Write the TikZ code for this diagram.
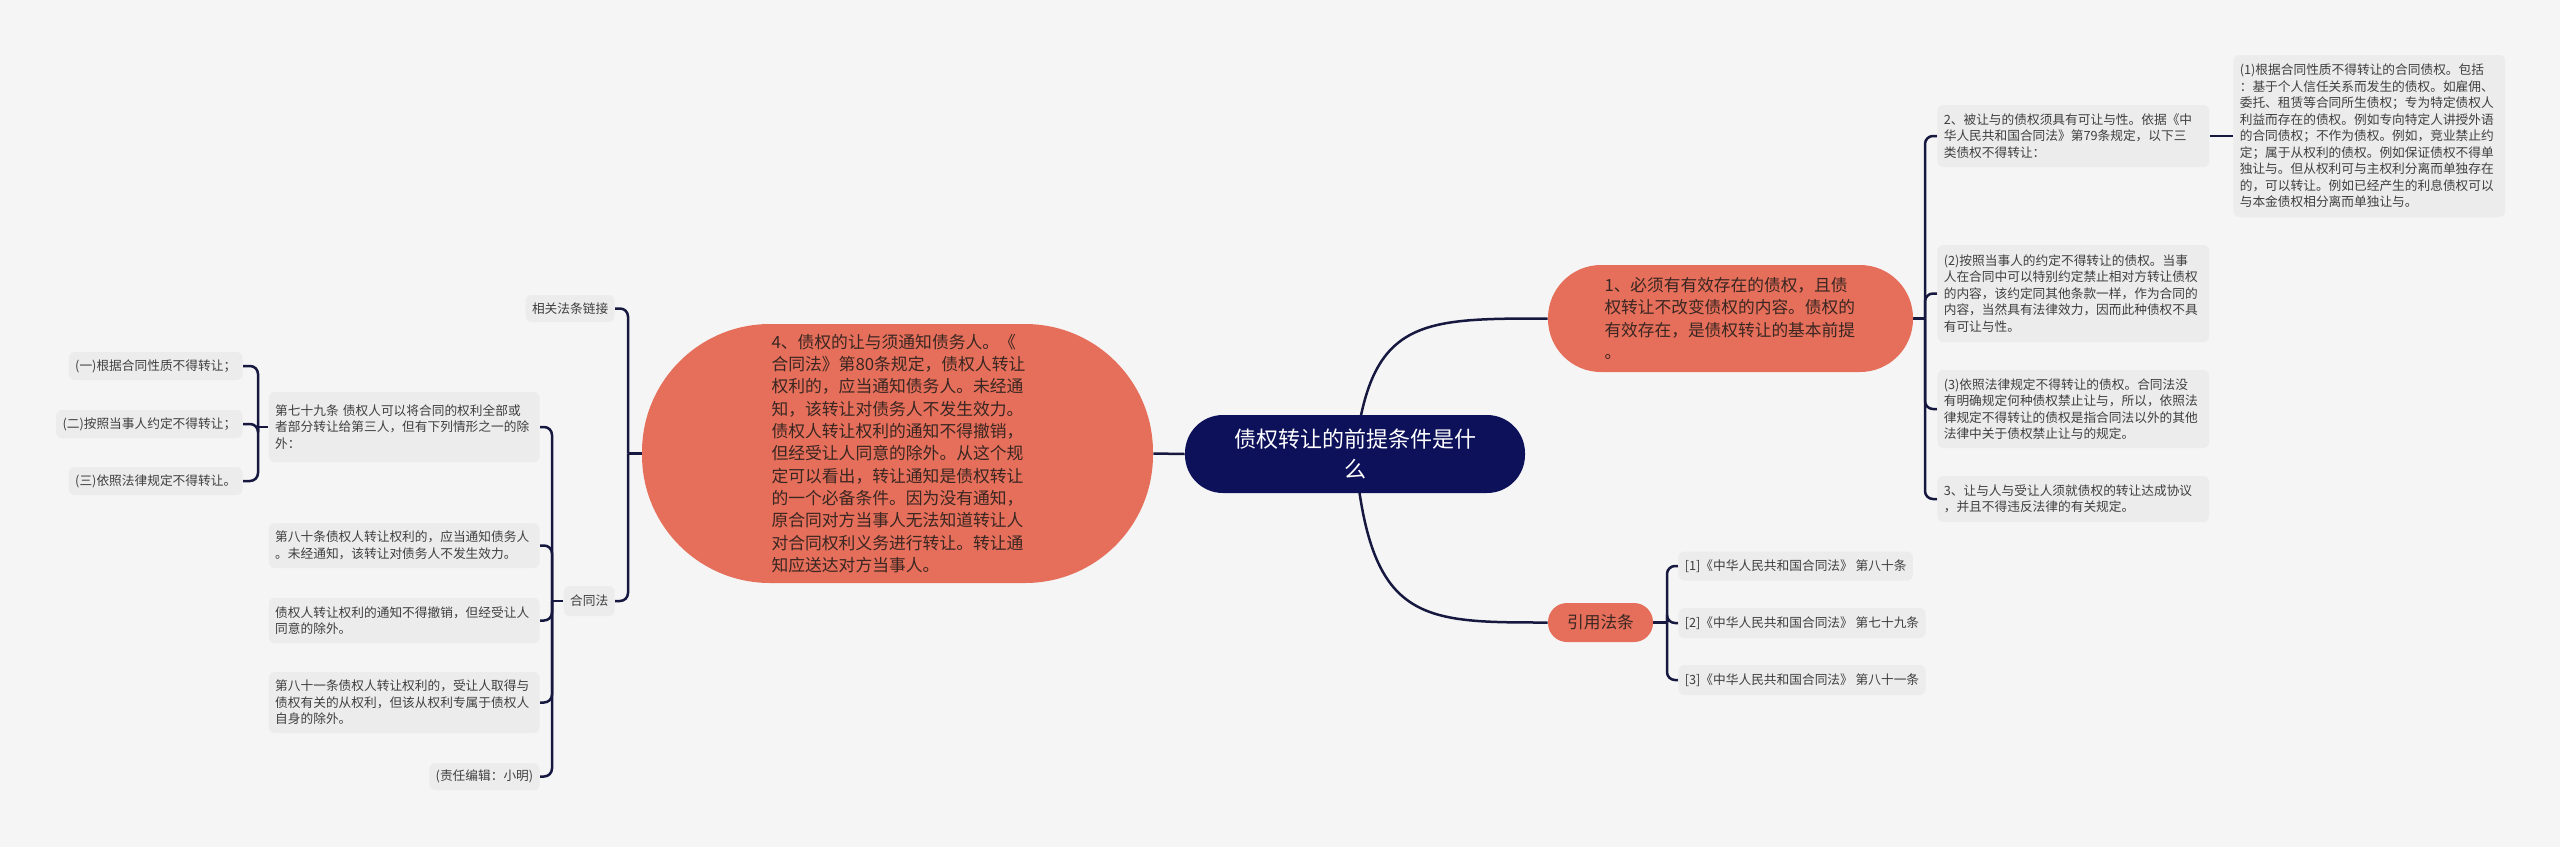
\documentclass[tikz,border=0pt]{standalone}
\usepackage{fontspec}
\setmainfont{Noto Sans CJK SC}
\usetikzlibrary{calc}
\pgfdeclarelayer{bg}
\pgfsetlayers{bg,main}
\definecolor{bgc}{HTML}{F5F5F5}
\definecolor{boxc}{HTML}{ECECEC}
\definecolor{navy}{RGB}{13,17,90}
\definecolor{linec}{RGB}{22,24,64}
\definecolor{salmon}{RGB}{229,111,90}
\definecolor{stxt}{HTML}{3F3F3F}
\definecolor{otxt}{HTML}{3A2622}
\begin{document}
\begin{tikzpicture}[x=0.5pt,y=-0.5pt,
  leaf/.style={fill=boxc, rounded corners=3pt, text=stxt, font=\fontsize{6.35pt}{8.25pt}\selectfont, inner xsep=3.2pt, inner ysep=1.5pt},
  wleaf/.style={leaf, align=left, text width=#1},
  onode/.style={fill=salmon, text=otxt, inner sep=0pt, font=\fontsize{8.35pt}{11.25pt}\selectfont},
  rootn/.style={fill=navy, text=white, inner sep=0pt, align=center, font=\fontsize{11pt}{15pt}\selectfont},
  conn/.style={draw=linec, line width=1.25pt},
  hook/.style={conn, rounded corners=4pt}
]
\begin{pgfonlayer}{bg}
\fill[bgc] (0,0) rectangle (2560,847);
\end{pgfonlayer}
\useasboundingbox (0,0) rectangle (2560,847);

% root
\node[rootn, minimum width=170pt, minimum height=39pt, rounded corners=19pt] (root) at (1355,454) {债权转让的前提条件是什\\么};

% main branches
\node[onode, align=left, minimum width=182.5pt, minimum height=53.5pt, rounded corners=26.5pt, text width=126pt] (n1) at (1730.5,318.5)
 {1、必须有有效存在的债权，且债\\权转让不改变债权的内容。债权的\\有效存在，是债权转让的基本前提\\。};
\node[onode, align=left, minimum width=255.5pt, minimum height=129.5pt, rounded corners=64pt, text width=126pt, font=\fontsize{8.4pt}{11.15pt}\selectfont] (n4) at (897.5,453.5)
 {4、债权的让与须通知债务人。《\\合同法》第80条规定，债权人转让\\权利的，应当通知债务人。未经通\\知，该转让对债务人不发生效力。\\债权人转让权利的通知不得撤销，\\但经受让人同意的除外。从这个规\\定可以看出，转让通知是债权转让\\的一个必备条件。因为没有通知，\\原合同对方当事人无法知道转让人\\对合同权利义务进行转让。转让通\\知应送达对方当事人。};
\node[onode, align=center, minimum width=52.5pt, minimum height=19.5pt, rounded corners=9.5pt] (cite) at (1600.5,622.5) {引用法条};

% right column
\node[wleaf=129.5pt, minimum height=31pt, anchor=west] (r1) at (1937,136)
 {2、被让与的债权须具有可让与性。依据《中\\华人民共和国合同法》第79条规定，以下三\\类债权不得转让：};
\node[wleaf=129.5pt, minimum height=81pt, anchor=west] (r1a) at (2233,136)
 {(1)根据合同性质不得转让的合同债权。包括\\：基于个人信任关系而发生的债权。如雇佣、\\委托、租赁等合同所生债权；专为特定债权人\\利益而存在的债权。例如专向特定人讲授外语\\的合同债权；不作为债权。例如，竞业禁止约\\定；属于从权利的债权。例如保证债权不得单\\独让与。但从权利可与主权利分离而单独存在\\的，可以转让。例如已经产生的利息债权可以\\与本金债权相分离而单独让与。};
\node[wleaf=129.5pt, minimum height=48.5pt, anchor=west] (r2) at (1937,293.5)
 {(2)按照当事人的约定不得转让的债权。当事\\人在合同中可以特别约定禁止相对方转让债权\\的内容，该约定同其他条款一样，作为合同的\\内容，当然具有法律效力，因而此种债权不具\\有可让与性。};
\node[wleaf=129.5pt, minimum height=39pt, anchor=west] (r3) at (1937,409)
 {(3)依照法律规定不得转让的债权。合同法没\\有明确规定何种债权禁止让与，所以，依照法\\律规定不得转让的债权是指合同法以外的其他\\法律中关于债权禁止让与的规定。};
\node[wleaf=129.5pt, minimum height=23pt, anchor=west] (r4) at (1937,499)
 {3、让与人与受让人须就债权的转让达成协议\\，并且不得违反法律的有关规定。};

% citations
\node[leaf, anchor=west, minimum height=14.5pt] (c1) at (1678,566) {[1]《中华人民共和国合同法》 第八十条};
\node[leaf, anchor=west, minimum height=15pt] (c2) at (1678,623) {[2]《中华人民共和国合同法》 第七十九条};
\node[leaf, anchor=west, minimum height=15pt] (c3) at (1678,680) {[3]《中华人民共和国合同法》 第八十一条};

% left side
\node[leaf, anchor=east, minimum height=13.5pt] (l1) at (615,308.5) {相关法条链接};
\node[leaf, anchor=east, minimum height=15pt] (l2) at (615,601) {合同法};

\node[wleaf=129pt, minimum height=35pt, anchor=east] (k1) at (540,427)
 {第七十九条 债权人可以将合同的权利全部或\\者部分转让给第三人，但有下列情形之一的除\\外：};
\node[wleaf=129pt, minimum height=22.5pt, anchor=east] (k2) at (540,545.5)
 {第八十条债权人转让权利的，应当通知债务人\\。未经通知，该转让对债务人不发生效力。};
\node[wleaf=129pt, minimum height=22.5pt, anchor=east] (k3) at (540,620.5)
 {债权人转让权利的通知不得撤销，但经受让人\\同意的除外。};
\node[wleaf=129pt, minimum height=30.5pt, anchor=east] (k4) at (540,702.5)
 {第八十一条债权人转让权利的，受让人取得与\\债权有关的从权利，但该从权利专属于债权人\\自身的除外。};
\node[leaf, anchor=east, minimum height=13.5pt] (k5) at (540,776.5) {(责任编辑：小明)};

\node[leaf, anchor=east, minimum height=14pt] (m1) at (243,366) {(一)根据合同性质不得转让；};
\node[leaf, anchor=east, minimum height=14pt] (m2) at (243,424) {(二)按照当事人约定不得转让；};
\node[leaf, anchor=east, minimum height=14pt] (m3) at (243,481) {(三)依照法律规定不得转让。};

% junctions
\coordinate (j1) at (1925,318.5);
\coordinate (j4) at (628,453.5);
\coordinate (j5) at (1667,622.5);
\coordinate (j2) at (552,601);
\coordinate (j3) at (258,427);

\begin{pgfonlayer}{bg}
\draw[conn] (root.west) -- (n4.east);
\draw[conn] (root.center) .. controls (1370,318.5) and (1420,318.5) .. (n1.west);
\draw[conn] (root.center) .. controls (1370,622.5) and (1420,622.5) .. (cite.west);

\draw[conn] (n1.east) -- (j1);
\draw[hook] (j1) -- (j1 |- r1.west) -- (r1.west);
\draw[hook] (j1) -- (j1 |- r2.west) -- (r2.west);
\draw[hook] (j1) -- (j1 |- r3.west) -- (r3.west);
\draw[hook] (j1) -- (j1 |- r4.west) -- (r4.west);
\draw[conn] (r1.east) -- (r1a.west);

\draw[conn] (cite.east) -- (j5);
\draw[hook] (j5) -- (j5 |- c1.west) -- (c1.west);
\draw[hook] (j5) -- (j5 |- c2.west) -- (c2.west);
\draw[hook] (j5) -- (j5 |- c3.west) -- (c3.west);

\draw[conn] (n4.west) -- (j4);
\draw[hook] (j4) -- (j4 |- l1.east) -- (l1.east);
\draw[hook] (j4) -- (j4 |- l2.east) -- (l2.east);

\draw[conn] (l2.west) -- (j2);
\draw[hook] (j2) -- (j2 |- k1.east) -- (k1.east);
\draw[hook] (j2) -- (j2 |- k2.east) -- (k2.east);
\draw[hook] (j2) -- (j2 |- k3.east) -- (k3.east);
\draw[hook] (j2) -- (j2 |- k4.east) -- (k4.east);
\draw[hook] (j2) -- (j2 |- k5.east) -- (k5.east);

\draw[conn] (k1.west) -- (j3);
\draw[hook] (j3) -- (j3 |- m1.east) -- (m1.east);
\draw[hook] (j3) -- (j3 |- m2.east) -- (m2.east);
\draw[hook] (j3) -- (j3 |- m3.east) -- (m3.east);
\end{pgfonlayer}
\end{tikzpicture}
\end{document}
